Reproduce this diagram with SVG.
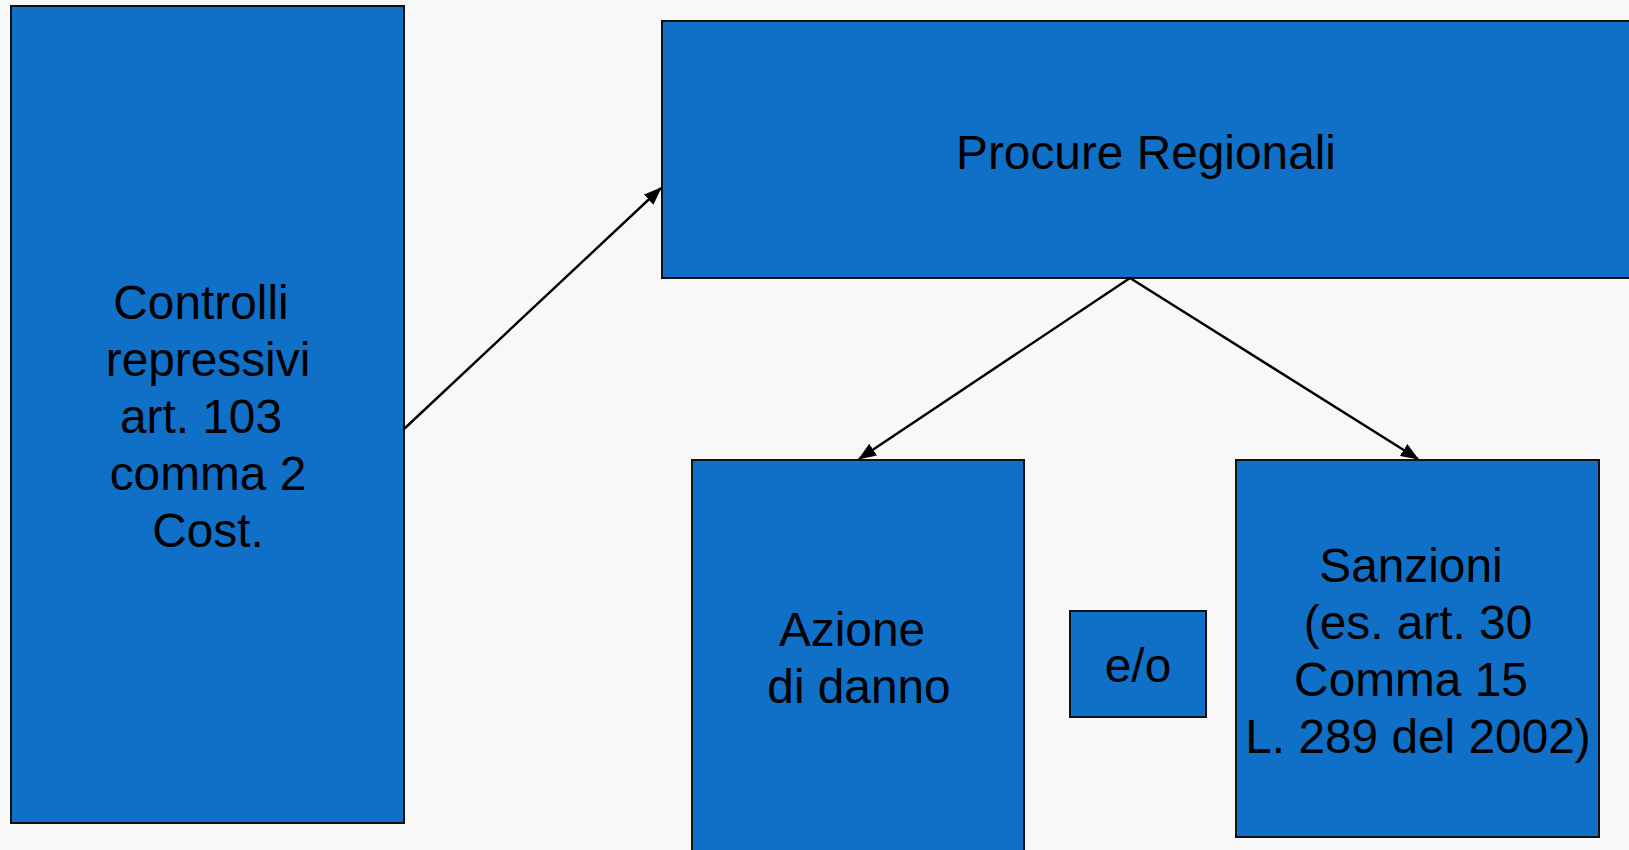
<svg xmlns="http://www.w3.org/2000/svg" width="1629" height="850" viewBox="0 0 1629 850">
<style>
.box{fill:#106fc6;stroke:#111;stroke-width:2}
.t{font-family:"Liberation Sans",Arial,sans-serif;font-size:47.8px;fill:#000;text-anchor:middle}
.c{stroke:#000;stroke-width:2.4;fill:none;marker-end:url(#ah)}
</style>
<defs>
<marker id="ah" markerWidth="18" markerHeight="14" refX="17" refY="7" orient="auto" markerUnits="userSpaceOnUse">
<path d="M0,0 L18,7 L0,14 Z" fill="#000"/>
</marker>
</defs>
<rect x="0" y="0" width="1629" height="850" fill="#f8f8f8"/>
<g id="controlli">
<rect class="box" x="11" y="6" width="393" height="817"/>
<text class="t" x="201" y="319">Controlli</text>
<text class="t" x="208" y="376">repressivi</text>
<text class="t" x="201" y="433">art. 103</text>
<text class="t" x="208" y="490">comma 2</text>
<text class="t" x="208" y="547">Cost.</text>
</g>
<g id="procure">
<rect class="box" x="662" y="21" width="972" height="257"/>
<text class="t" x="1146" y="169">Procure Regionali</text>
</g>
<g id="azione">
<rect class="box" x="692" y="460" width="332" height="400"/>
<text class="t" x="852" y="646">Azione</text>
<text class="t" x="859" y="703">di danno</text>
</g>
<g id="eo">
<rect class="box" x="1070" y="611" width="136" height="106"/>
<text class="t" x="1138" y="682">e/o</text>
</g>
<g id="sanzioni">
<rect class="box" x="1236" y="460" width="363" height="377"/>
<text class="t" x="1411" y="582">Sanzioni</text>
<text class="t" x="1418" y="639">(es. art. 30</text>
<text class="t" x="1411" y="696">Comma 15</text>
<text class="t" x="1418" y="753">L. 289 del 2002)</text>
</g>
<g id="connectors">
<line class="c" x1="404" y1="429" x2="661" y2="188"/>
<line class="c" x1="1130" y1="278" x2="859" y2="459"/>
<line class="c" x1="1130" y1="278" x2="1418" y2="459"/>
</g>
</svg>
